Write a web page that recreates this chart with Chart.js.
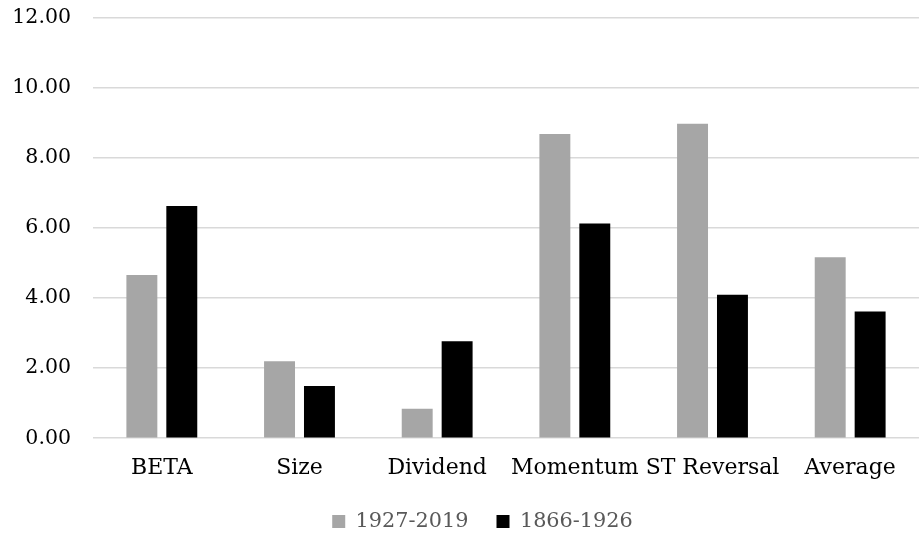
<!DOCTYPE html>
<html>
<head>
<meta charset="utf-8">
<script src="https://cdn.jsdelivr.net/npm/chart.js@4"></script>
<style>
  html, body { margin: 0; padding: 0; background: #fff; }
  #wrap { width: 920px; height: 535px; }
</style>
</head>
<body>
<div id="wrap"><canvas id="premia"></canvas></div>
<script>
"use strict";

// data
const categories = ["BETA", "Size", "Dividend", "Momentum", "ST Reversal", "Average"];
const modernPeriod = [4.66, 2.20, 0.84, 8.69, 8.98, 5.17];
const earlyPeriod = [6.63, 1.49, 2.77, 6.13, 4.10, 3.62];
const seriesNames = ["1927-2019", "1866-1926"];
const yTicks = [0, 2, 4, 6, 8, 10, 12];

const fontFamily = "'DejaVu Serif', 'Liberation Serif', serif";

// legend in the original sits a bit right of the canvas centre
const nudgeLegend = {
  id: "nudgeLegend",
  afterLayout(chart) {
    chart.legend.left += 23;
    chart.legend.right += 23;
  },
};

const premia = document.getElementById("premia");

new Chart(premia, {
  type: "bar",
  data: {
    labels: categories,
    datasets: [
      {
        label: seriesNames[0],
        data: modernPeriod,
        backgroundColor: "#a6a6a6",
        categoryPercentage: 0.58,
        barPercentage: 0.775,
      },
      {
        label: seriesNames[1],
        data: earlyPeriod,
        backgroundColor: "#000000",
        categoryPercentage: 0.58,
        barPercentage: 0.775,
      },
    ],
  },
  plugins: [nudgeLegend],
  options: {
    responsive: true,
    maintainAspectRatio: false,
    animation: false,
    layout: { padding: { top: 18, right: 1, left: 0, bottom: -7 } },
    plugins: {
      tooltip: { enabled: false },
      legend: {
        position: "bottom",
        labels: {
          boxWidth: 13,
          boxHeight: 13,
          padding: 28,
          color: "#595959",
          font: { family: fontFamily, size: 20.8 },
        },
      },
    },
    scales: {
      x: {
        afterFit: (scale) => { scale.height = 45; },
        grid: { display: false },
        border: { display: false },
        ticks: {
          color: "#000",
          padding: 9,
          maxRotation: 0,
          autoSkip: false,
          font: { family: fontFamily, size: 22 },
        },
      },
      y: {
        min: 0,
        max: 12,
        afterFit: (scale) => {
          scale.width = 93;
          scale.paddingTop = 0;
          scale.paddingBottom = 0;
        },
        afterBuildTicks: (scale) => { scale.ticks = yTicks.map(v => ({ value: v })); },
        grid: { color: "#d9d9d9", lineWidth: 1.5, drawTicks: false },
        border: { display: false },
        ticks: {
          color: "#000",
          padding: 22,
          font: { family: fontFamily, size: 20.5 },
          callback: (v) => Number(v).toFixed(2),
        },
      },
    },
  },
});
</script>
</body>
</html>
